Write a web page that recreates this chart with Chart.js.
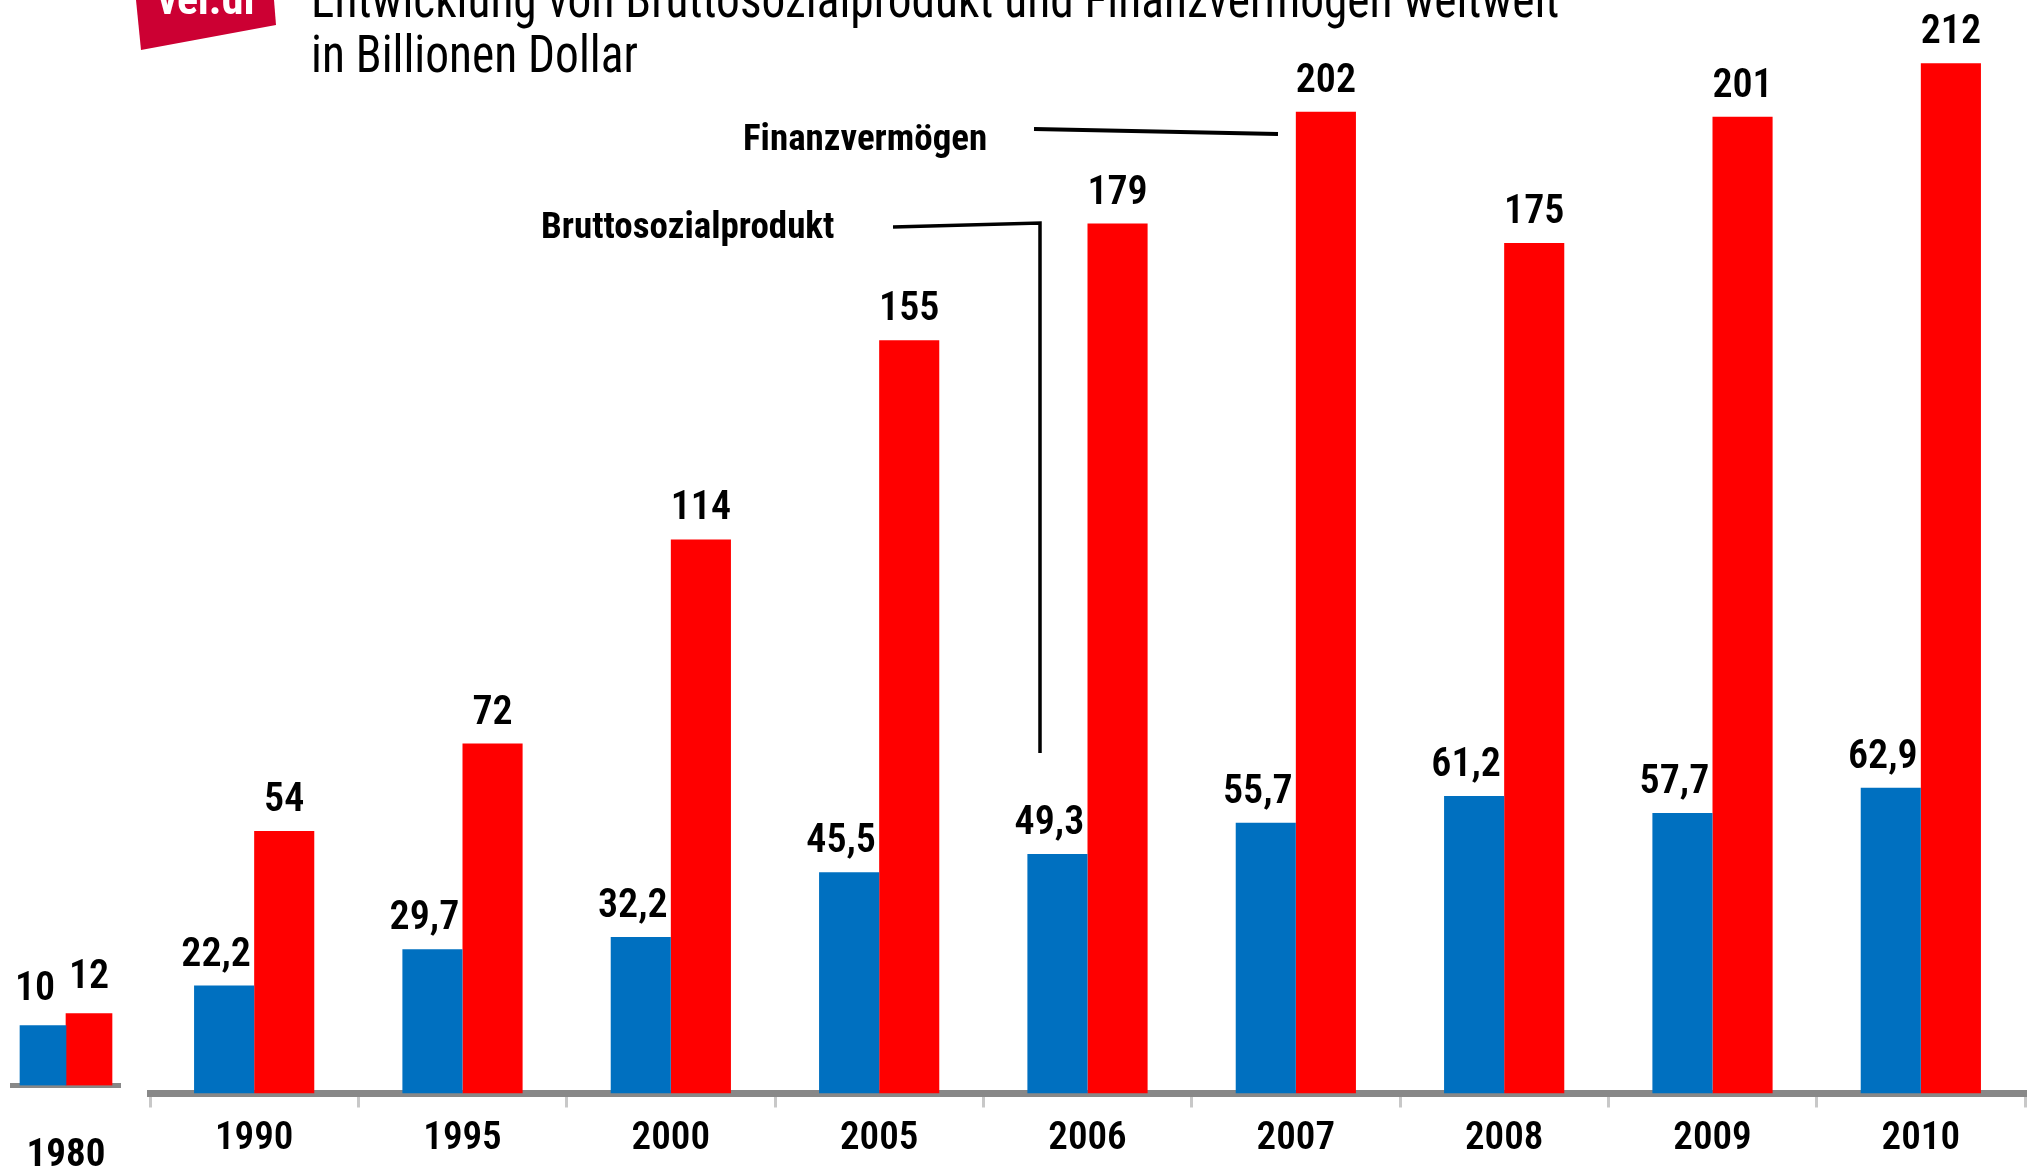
<!DOCTYPE html>
<html>
<head>
<meta charset="utf-8">
<script src="https://cdn.jsdelivr.net/npm/chart.js@4.4.1/dist/chart.umd.min.js"></script>
<style>
  html, body { margin: 0; padding: 0; background: #fff; overflow: hidden; }
  #wrap { position: relative; width: 2035px; height: 1175px; }
  #main, #inset { position: absolute; left: 0; top: 0; }
</style>
</head>
<body>
<div id="wrap">
  <canvas id="main" width="2035" height="1175"></canvas>
  <canvas id="inset" width="140" height="1175"></canvas>
</div>
<script>
// ===== Data =====
const years      = ['1990', '1995', '2000', '2005', '2006', '2007', '2008', '2009', '2010'];
const bspValues  = [22.2, 29.7, 32.2, 45.5, 49.3, 55.7, 61.2, 57.7, 62.9];   // Bruttosozialprodukt
const fvValues   = [54, 72, 114, 155, 179, 202, 175, 201, 212];              // Finanzvermögen
const insetYears = ['1980'];
const insetBsp   = [10];
const insetFv    = [12];

// ===== Style =====
const BLUE = '#0070C0';
const RED  = '#FF0000';
const FONT = '"Roboto Condensed", Roboto, "Liberation Sans", sans-serif';

const fmt = v => String(v).replace('.', ',');

// no narrow font by name here, so every font set on these canvases gets the condensed stretch
function condense(canvas) {
  const ctx = canvas.getContext('2d');
  const desc = Object.getOwnPropertyDescriptor(CanvasRenderingContext2D.prototype, 'font');
  Object.defineProperty(ctx, 'font', {
    get() { return desc.get.call(this); },
    set(v) { desc.set.call(this, v); this.fontStretch = 'condensed'; }
  });
  return canvas;
}

// value labels above bars (blue ones sit a bit left, like the original)
const valueLabels = {
  id: 'valueLabels',
  afterDatasetsDraw(chart, args, opts) {
    const ctx = chart.ctx;
    const gap = opts.gap || 20;
    ctx.save();
    ctx.font = `600 40px ${FONT}`;
    ctx.fillStyle = '#000';
    ctx.textAlign = 'center';
    ctx.textBaseline = 'alphabetic';
    chart.data.datasets.forEach((ds, i) => {
      chart.getDatasetMeta(i).data.forEach((bar, j) => {
        const dx = i === 0 ? -8 : 0;
        ctx.fillText(fmt(ds.data[j]), bar.x + dx, bar.y - gap);
      });
    });
    ctx.restore();
  }
};

// title, logo and the two leader-line annotations
const decorations = {
  id: 'decorations',
  afterDraw(chart) {
    const ctx = chart.ctx;
    ctx.save();

    // logo
    ctx.fillStyle = '#CC0033';
    ctx.beginPath();
    ctx.moveTo(136, 0); ctx.lineTo(274, 0); ctx.lineTo(276, 25); ctx.lineTo(141, 50);
    ctx.closePath(); ctx.fill();
    ctx.fillStyle = '#fff';
    ctx.font = `bold 44px ${FONT}`;
    ctx.textAlign = 'center';
    ctx.fillText('ver.di', 206, 14);

    // title (squeezed a little more than the condensed face)
    ctx.fillStyle = '#000';
    ctx.textAlign = 'left';
    ctx.font = `51px ${FONT}`;
    ctx.save();
    ctx.translate(311, 0);
    ctx.scale(0.93, 1);
    ctx.fillText('Entwicklung von Bruttosozialprodukt und Finanzvermögen weltweit', 0, 17);
    ctx.fillText('in Billionen Dollar', 0, 72);
    ctx.restore();

    // annotations
    ctx.font = `bold 37px ${FONT}`;
    ctx.fillText('Finanzvermögen', 743, 150);
    ctx.fillText('Bruttosozialprodukt', 541, 238);

    ctx.strokeStyle = '#000';
    ctx.lineWidth = 4;
    ctx.beginPath();
    ctx.moveTo(1034, 129); ctx.lineTo(1278, 134);
    ctx.stroke();
    ctx.lineWidth = 3.5;
    ctx.beginPath();
    ctx.moveTo(893, 227); ctx.lineTo(1040, 223); ctx.lineTo(1040, 753);
    ctx.stroke();

    ctx.restore();
  }
};

// ===== Main chart =====
new Chart(condense(document.getElementById('main')), {
  type: 'bar',
  data: {
    labels: years,
    datasets: [
      { label: 'Bruttosozialprodukt', data: bspValues, backgroundColor: BLUE, categoryPercentage: 0.577, barPercentage: 1 },
      { label: 'Finanzvermögen',      data: fvValues,  backgroundColor: RED,  categoryPercentage: 0.577, barPercentage: 1 }
    ]
  },
  options: {
    responsive: false, animation: false,
    layout: { padding: { left: 150, right: 10, top: 0, bottom: 0 } },
    plugins: { legend: { display: false }, tooltip: { enabled: false }, valueLabels: { gap: 20 } },
    scales: {
      x: {
        z: 1,
        border: { color: '#888', width: 7 },
        grid: { drawOnChartArea: false, offset: true, tickLength: 14, color: '#c8c8c8', lineWidth: 3 },
        ticks: { color: '#000', font: { family: FONT, size: 39, weight: '600' }, padding: 8 },
        afterFit(s) { s.height = 1175 - 1093.5; s.paddingLeft = 0; s.paddingRight = 0; }
      },
      y: { display: false, min: 0, max: 225 }
    }
  },
  plugins: [valueLabels, decorations]
});

// ===== 1980 inset (own short axis, left of the main one) =====
new Chart(condense(document.getElementById('inset')), {
  type: 'bar',
  data: {
    labels: insetYears,
    datasets: [
      { data: insetBsp, backgroundColor: BLUE, barThickness: 46 },
      { data: insetFv,  backgroundColor: RED,  barThickness: 46 }
    ]
  },
  options: {
    responsive: false, animation: false,
    layout: { padding: { left: 12, right: 20, top: 0, bottom: 0 } },
    plugins: { legend: { display: false }, tooltip: { enabled: false }, valueLabels: { gap: 26 } },
    scales: {
      x: {
        z: 1,
        border: { display: true, color: '#888', width: 5 },
        grid: { display: false },
        ticks: { color: '#000', font: { family: FONT, size: 39, weight: 'bold' }, padding: 39 },
        afterFit(s) { s.height = 1175 - 1085.5; s.paddingLeft = 0; s.paddingRight = 0; }
      },
      y: { display: false, min: 0, max: 181 }
    }
  },
  plugins: [valueLabels]
});
</script>
</body>
</html>
